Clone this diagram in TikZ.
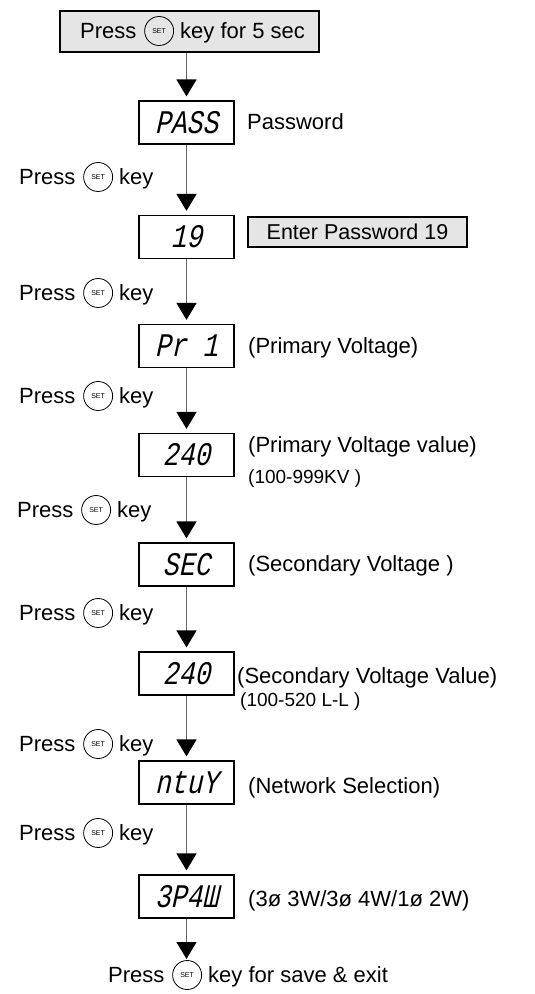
\documentclass[tikz,border=0pt]{standalone}
\usepackage{fontspec}
\setmainfont{Liberation Sans}
\newfontfamily\segfont[FakeSlant=0.22,FakeStretch=0.8]{Liberation Mono}
\usetikzlibrary{arrows.meta,calc}
\tikzset{
 disp/.style={draw,line width=1.2pt,minimum width=95pt,minimum height=43pt,inner sep=0pt,font=\segfont\fontsize{33}{33}\selectfont},
 lbl/.style={anchor=base west,inner sep=0pt,font=\fontsize{22}{24}\selectfont},
 smalllbl/.style={anchor=base west,inner sep=0pt,font=\fontsize{19}{22}\selectfont},
 setc/.style={circle,draw,line width=0.8pt,inner sep=0pt,minimum size=29pt,font=\fontsize{7}{7}\selectfont},
 flow/.style={draw=black!60,line width=1.3pt,-{Triangle[width=20pt,length=17pt,color=black]},shorten >=4pt},
 graybox/.style={draw,fill=black!10,line width=1.2pt,inner sep=0pt},
}
\newcommand\presskey[5]{%
 \node[lbl] (#1p) at (#2,#3+7.9) {#4};
 \node[setc] (#1c) at ($(#1p.base east)+(8+14.5,-7.9)$) {SET};
 \node[lbl] (#1k) at ($(#1c.east)+(6,7.9)$) {#5};
}
\begin{document}
\begin{tikzpicture}[x=1pt,y=-1pt]
\useasboundingbox (0,0) rectangle (535,994);
% top box
\node[graybox,minimum width=259pt,minimum height=41pt] (start) at (189.5,31.5) {};
\presskey{t}{80}{31}{Press}{key for 5 sec}
% displays
\node[disp] (d1) at (186.5,122.5) {PASS};
\node[disp] (d2) at (186.5,237) {19};
\node[disp] (d3) at (186.5,346) {Pr 1};
\node[disp] (d4) at (186.5,455) {240};
\node[disp] (d5) at (186.5,564.5) {SEC};
\node[disp] (d6) at (186.5,673.5) {240};
\node[disp] (d7) at (186.5,782.5) {ntuY};
\node[disp] (d8) at (186.5,896.5) {3P4Ш};
\coordinate (fin) at (186.5,959);
% side labels
\node[lbl] (l1) at (247,122+7.9) {Password};
\node[graybox,minimum width=219pt,minimum height=30pt,font=\fontsize{21.5}{24}\selectfont] (enter) at (357.5,232) {Enter Password 19};
\node[lbl] (l3) at (248,346+7.9) {(Primary Voltage)};
\node[lbl] (l4) at (248,445+7.9) {(Primary Voltage value)};
\node[smalllbl] (l4b) at (248,477+6.8) {(100-999KV )};
\node[lbl] (l5) at (248,564+7.9) {(Secondary Voltage )};
\node[lbl] (l6) at (237,676+7.9) {(Secondary Voltage Value)};
\node[smalllbl] (l6b) at (240,700+6.8) {(100-520 L-L )};
\node[lbl] (l7) at (248,786+7.9) {(Network Selection)};
\node[lbl] (l8) at (248,899+7.9) {(3ø 3W/3ø 4W/1ø 2W)};
% press labels
\presskey{a}{19}{177}{Press}{key}
\presskey{b}{19}{293}{Press}{key}
\presskey{c}{19}{396}{Press}{key}
\presskey{d}{17}{510}{Press}{key}
\presskey{e}{19}{613}{Press}{key}
\presskey{f}{19}{744}{Press}{key}
\presskey{g}{19}{833}{Press}{key}
\presskey{h}{108}{975}{Press}{key for save \& exit}
% connectors
\draw[flow] (d1 |- start.south) -- (d1);
\draw[flow] (d1) -- (d2);
\draw[flow] (d2) -- (d3);
\draw[flow] (d3) -- (d4);
\draw[flow] (d4) -- (d5);
\draw[flow] (d5) -- (d6);
\draw[flow] (d6) -- (d7);
\draw[flow] (d7) -- (d8);
\draw[flow,shorten >=0pt] (d8) -- (fin);
\end{tikzpicture}
\end{document}
